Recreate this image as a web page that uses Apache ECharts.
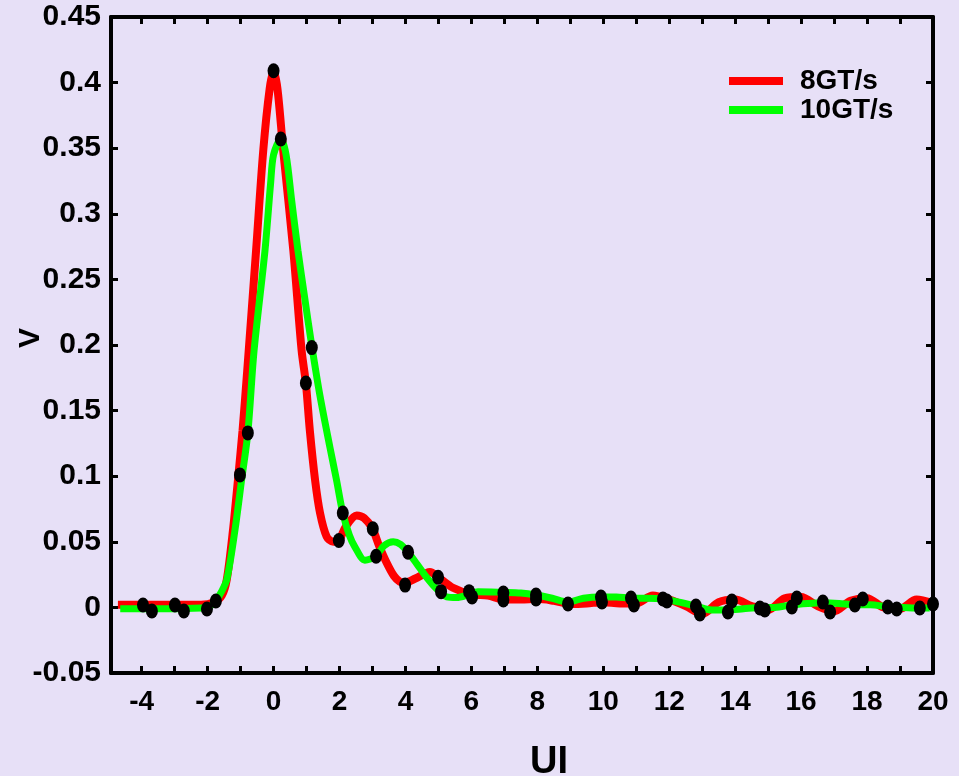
<!DOCTYPE html>
<html>
<head>
<meta charset="utf-8">
<script src="https://cdn.jsdelivr.net/npm/echarts@6/dist/echarts.min.js"></script>
<style>
  html, body { margin: 0; padding: 0; background: #e7e0f7; }
  #chart { width: 959px; height: 776px; }
</style>
</head>
<body>
<div id="chart"></div>
<script>
// 8GT/s pulse response (UI, volts)
const ui8 = [-4.72, -4, -3, -2.2, -1.8, -1.57, -1.42, -1.23, -1.08, -0.94, -0.8, -0.53, -0.31, -0.12, 0,
  0.12, 0.29, 0.6, 0.85, 0.98, 1.1, 1.26, 1.41, 1.61, 1.81, 1.98, 2.2, 2.52, 2.75, 3.0, 3.2, 3.43, 3.65,
  3.83, 4.0, 4.3, 4.74, 5.0, 5.44, 6.0, 6.5, 7, 7.5, 8, 8.5, 9, 9.5, 10, 10.5, 11, 11.5, 12, 12.5, 13,
  13.5, 14, 14.5, 15, 15.5, 16, 16.5, 17, 17.5, 18, 18.5, 19, 19.5, 20];
const v8 = [0.002, 0.002, 0.002, 0.002, 0.004, 0.009, 0.021, 0.059, 0.097, 0.135, 0.18, 0.272, 0.349, 0.395, 0.409,
  0.395, 0.349, 0.272, 0.196, 0.171, 0.135, 0.097, 0.072, 0.054, 0.05, 0.051, 0.062, 0.07, 0.068, 0.06, 0.047, 0.034, 0.024,
  0.0196, 0.019, 0.022, 0.027, 0.023, 0.015, 0.01, 0.009, 0.006, 0.006, 0.0065, 0.005, 0.0026, 0.003, 0.004, 0.003, 0.003, 0.009, 0.006, 0.001, -0.005,
  0.004, 0.006, 0.001, -0.002, 0.007, 0.008, 0.001, -0.003, 0.005, 0.007, 0.0, -0.001, 0.006, 0.003];

// 10GT/s pulse response (UI, volts)
const ui10 = [-4.65, -3, -2.2, -2.0, -1.75, -1.6, -1.42, -1.17, -0.97, -0.78, -0.59, -0.26, -0.09, 0.0, 0.22,
  0.38, 0.55, 0.74, 0.95, 1.15, 1.41, 1.71, 1.91, 2.1, 2.3, 2.47, 2.77, 3.1, 3.35, 3.63, 3.85, 4.08, 4.35, 4.64,
  4.95, 5.25, 5.55, 5.9, 6.2, 6.97, 7.5, 7.96, 8.45, 8.93, 9.4, 9.93, 10.4, 10.84, 11.3, 11.81, 12.3, 12.81, 13.3,
  13.78, 14.25, 14.75, 15.2, 15.72, 16.2, 16.66, 17.15, 17.63, 18.1, 18.63, 19.1, 19.6, 19.9];
const v10 = [-0.001, -0.001, -0.0005, 0.0, 0.005, 0.011, 0.021, 0.059, 0.097, 0.133, 0.196, 0.272, 0.323, 0.345, 0.357,
  0.345, 0.31, 0.272, 0.235, 0.201, 0.161, 0.122, 0.097, 0.072, 0.055, 0.046, 0.036, 0.039, 0.047, 0.05, 0.048, 0.042, 0.033, 0.023,
  0.014, 0.008, 0.0075, 0.0095, 0.012, 0.0115, 0.011, 0.0095, 0.007, 0.004, 0.007, 0.008, 0.008, 0.007, 0.007, 0.0065, 0.004, 0.001, -0.002,
  -0.002, -0.001, 0.0, 0.0, 0.002, 0.003, 0.0035, 0.003, 0.002, 0.002, 0.0005, 0.0, -0.0005, -0.0005];

// sampled cursor points on both responses
const dotUI = [-3.96, -3.69, -2.99, -2.72, -2.02, -1.75, -1.02, -0.78, 0, 0.22, 0.98, 1.16, 1.98, 2.10, 3.01,
  3.11, 3.99, 4.08, 4.99, 5.08, 5.93, 6.02, 6.97, 6.97, 7.96, 7.96, 8.93, 9.93, 9.96, 10.84, 10.93, 11.81, 11.93,
  12.81, 12.93, 13.78, 13.9, 14.75, 14.9, 15.72, 15.87, 16.66, 16.88, 17.63, 17.87, 18.63, 18.9, 19.6, 20];
const dotV = [0.0018, -0.0027, 0.0018, -0.0027, -0.0012, 0.0049, 0.101, 0.133, 0.409, 0.357, 0.171, 0.198, 0.051, 0.072, 0.060,
  0.039, 0.017, 0.042, 0.023, 0.012, 0.012, 0.008, 0.011, 0.0056, 0.0095, 0.0064, 0.0026, 0.0079, 0.0041, 0.0072, 0.0018, 0.0064, 0.0049,
  0.0011, -0.005, -0.0035, 0.0049, -0.0005, -0.002, 0.0003, 0.0072, 0.0041, -0.0035, 0.0018, 0.0064, 0.0003, -0.0012, -0.0005, 0.0026];

const seriesNames = ['8GT/s', '10GT/s'];
const xLabelValues = [-4, -2, 0, 2, 4, 6, 8, 10, 12, 14, 16, 18, 20];
const xTickValues = [-4, -3, -2, -1, 0, 1, 2, 3, 4, 5, 6, 7, 8, 9, 10, 11, 12, 13, 14, 15, 16, 17, 18, 19, 20];

const zip = (xs, ys) => xs.map((x, i) => [x, ys[i]]);
const FONT = '"Liberation Sans", Arial, sans-serif';
const X_MIN = -4.93, X_MAX = 20, Y_MIN = -0.05, Y_MAX = 0.45;

const axisLine = { show: true, onZero: false, lineStyle: { color: '#000', width: 4 } };
const tick = { show: true, inside: true, length: 7, lineStyle: { color: '#000', width: 3 } };

const chart = echarts.init(document.getElementById('chart'), null, { renderer: 'canvas' });
chart.setOption({
  animation: false,
  backgroundColor: '#e7e0f7',
  grid: { left: 111, right: 26, top: 17, bottom: 103, containLabel: false, outerBoundsMode: 'none' },
  legend: {
    orient: 'vertical', left: 729, top: 67, padding: 0,
    itemWidth: 54, itemHeight: 8, itemGap: 1, icon: 'rect',
    data: seriesNames,
    textStyle: { fontFamily: FONT, fontSize: 28, fontWeight: 'bold', color: '#000', lineHeight: 28, padding: [0, 0, 0, 12] }
  },
  xAxis: [
    {
      type: 'value', position: 'bottom', min: X_MIN, max: X_MAX,
      axisLine, axisTick: Object.assign({ customValues: xTickValues }, tick),
      axisLabel: { customValues: xLabelValues, fontFamily: FONT, fontSize: 28, fontWeight: 'bold', color: '#000', margin: 15 },
      splitLine: { show: false },
      name: 'UI', nameLocation: 'middle', nameGap: 71, nameMoveOverlap: false,
      nameTextStyle: { fontFamily: FONT, fontSize: 38, fontWeight: 'bold', color: '#000', padding: [0, 0, 0, 54] }
    },
    {
      type: 'value', position: 'top', min: X_MIN, max: X_MAX,
      axisLine, axisTick: Object.assign({ customValues: xTickValues }, tick),
      axisLabel: { show: false }, splitLine: { show: false }
    }
  ],
  yAxis: [
    {
      type: 'value', position: 'left', min: Y_MIN, max: Y_MAX, interval: 0.05,
      axisLine, axisTick: tick,
      axisLabel: { fontFamily: FONT, fontSize: 30, fontWeight: 'bold', color: '#000', margin: 10 },
      splitLine: { show: false },
      name: 'V', nameLocation: 'middle', nameGap: 65, nameMoveOverlap: false,
      nameTextStyle: { fontFamily: FONT, fontSize: 30, fontWeight: 'bold', color: '#000', padding: [0, 0, 0, 14] }
    },
    {
      type: 'value', position: 'right', min: Y_MIN, max: Y_MAX, interval: 0.05,
      axisLine, axisTick: tick,
      axisLabel: { show: false }, splitLine: { show: false }
    }
  ],
  series: [
    {
      name: seriesNames[0], type: 'line', data: zip(ui8, v8), smooth: 0.3,
      showSymbol: false, color: '#ff0000', lineStyle: { width: 8, color: '#ff0000' }, z: 2
    },
    {
      name: seriesNames[1], type: 'line', data: zip(ui10, v10), smooth: 0.3,
      showSymbol: false, color: '#00ff00', lineStyle: { width: 7, color: '#00ff00' }, z: 3
    },
    {
      name: 'cursors', type: 'scatter', data: zip(dotUI, dotV),
      symbol: 'circle', symbolSize: [12, 15], itemStyle: { color: '#000', opacity: 1 }, z: 4
    }
  ]
});
</script>
</body>
</html>
